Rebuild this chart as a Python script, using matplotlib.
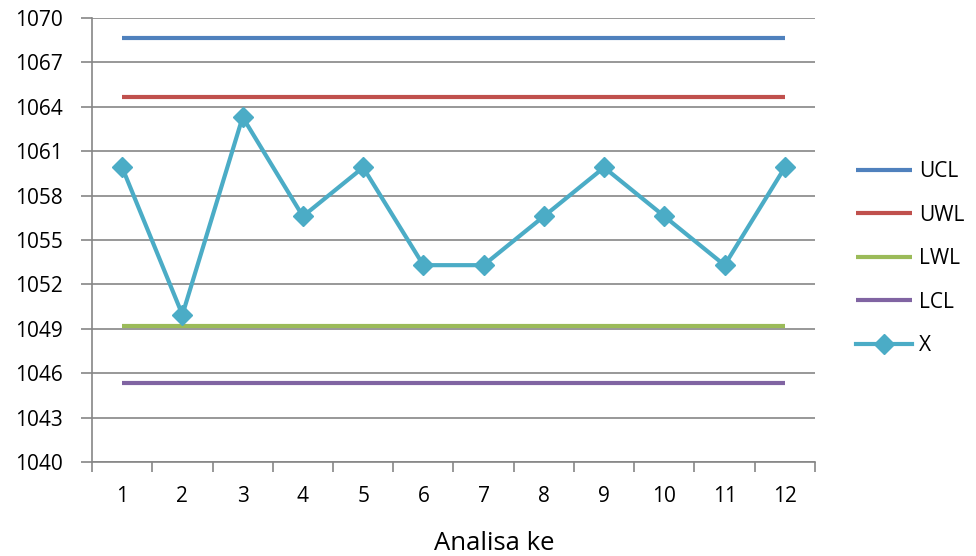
import matplotlib.pyplot as plt

# control chart data
analisa = list(range(1, 13))
ucl = [1068.65] * 12
uwl = [1064.65] * 12
lwl = [1049.2] * 12
lcl = [1045.35] * 12
x_vals = [1059.9, 1049.95, 1063.3, 1056.6, 1059.9, 1053.3,
          1053.3, 1056.6, 1059.9, 1056.6, 1053.3, 1059.9]
y_ticks = list(range(1040, 1071, 3))

plt.rcParams['font.family'] = ['Open Sans', 'DejaVu Sans']

fig = plt.figure(figsize=(9.76, 5.56), dpi=100)
ax = fig.add_axes([0.0943, 0.169, 0.7407, 0.7987])

ax.plot(analisa, ucl, color='#4F81BD', lw=3, label='UCL', solid_capstyle='butt')
ax.plot(analisa, uwl, color='#C0504D', lw=3, label='UWL', solid_capstyle='butt')
ax.plot(analisa, lwl, color='#9BBB59', lw=3, label='LWL', solid_capstyle='butt')
ax.plot(analisa, lcl, color='#8064A2', lw=3, label='LCL', solid_capstyle='butt')
ax.plot(analisa, x_vals, color='#4BACC6', lw=3, marker='D', markersize=10,
        label='X')

ax.set_xlim(0.5, 12.5)
ax.set_ylim(1040, 1070)
ax.set_yticks(y_ticks)
ax.set_xticks([i + 0.5 for i in range(0, 13)], minor=False)
ax.set_xticklabels([])
ax.set_xticks(analisa, minor=True)
ax.set_xticklabels([str(i) for i in analisa], minor=True)
ax.tick_params(axis='x', which='minor', length=0, pad=17, labelsize=15)
ax.tick_params(axis='x', which='major', length=7, color='#868686', width=1.2)
ax.tick_params(axis='y', length=8, color='#868686', width=1.2, labelsize=15, pad=13)

ax.grid(axis='y', color='#868686', lw=1.2)
ax.set_axisbelow(True)
for side in ['top', 'right']:
    ax.spines[side].set_visible(False)
for side in ['left', 'bottom']:
    ax.spines[side].set_color('#868686')
    ax.spines[side].set_linewidth(1.2)

ax.set_xlabel('Analisa ke', fontsize=18.5)
ax.xaxis.set_label_coords(0.556, -0.155)

fig.legend(loc='center left', bbox_to_anchor=(0.858, 0.535), frameon=False,
           fontsize=15, handlelength=2.7, handletextpad=0.3, labelspacing=1.08)

plt.savefig('out.png', dpi=100)
